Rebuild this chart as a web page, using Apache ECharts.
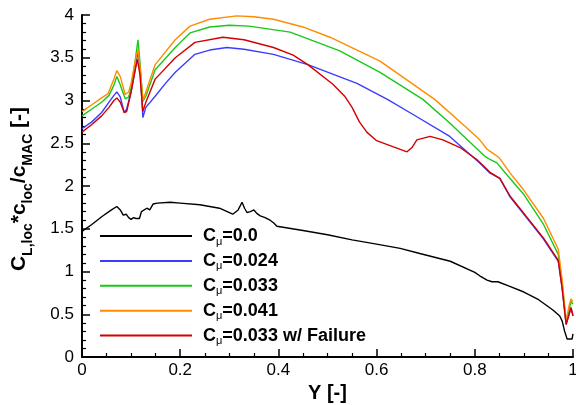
<!DOCTYPE html>
<html>
<head>
<meta charset="utf-8">
<script src="https://cdn.jsdelivr.net/npm/echarts@6/dist/echarts.min.js"></script>
<style>html,body{margin:0;padding:0;background:#fff}#c{width:576px;height:405px}</style>
</head>
<body>
<div id="c"></div>
<script>
var seriesNames = ['Cμ=0.0', 'Cμ=0.024', 'Cμ=0.033', 'Cμ=0.041', 'Cμ=0.033 w/ Failure'];
var xTicks = [0, 0.2, 0.4, 0.6, 0.8, 1];
var yTicks = [0, 0.5, 1, 1.5, 2, 2.5, 3, 3.5, 4];

var y0 = [0, 0.02, 0.04, 0.06, 0.071, 0.078, 0.084, 0.09, 0.095, 0.10, 0.105, 0.11, 0.117, 0.121, 0.124, 0.132, 0.138, 0.145, 0.153, 0.18, 0.2, 0.24, 0.28, 0.307, 0.318, 0.326, 0.331, 0.336, 0.343, 0.35, 0.356, 0.363, 0.373, 0.383, 0.39, 0.397, 0.45, 0.5, 0.55, 0.6, 0.648, 0.688, 0.75, 0.8, 0.81, 0.825, 0.835, 0.847, 0.87, 0.9, 0.93, 0.959, 0.973, 0.978, 0.983, 0.988, 0.998, 1.0];
var v0 = [1.47, 1.55, 1.64, 1.72, 1.76, 1.72, 1.66, 1.67, 1.63, 1.61, 1.63, 1.62, 1.62, 1.70, 1.72, 1.74, 1.72, 1.79, 1.80, 1.81, 1.80, 1.78, 1.74, 1.67, 1.72, 1.81, 1.74, 1.69, 1.70, 1.72, 1.68, 1.65, 1.63, 1.60, 1.57, 1.53, 1.48, 1.43, 1.37, 1.32, 1.27, 1.21, 1.12, 0.99, 0.95, 0.90, 0.88, 0.88, 0.83, 0.76, 0.67, 0.55, 0.48, 0.42, 0.30, 0.21, 0.21, 0.27];

var y1 = [0, 0.02, 0.04, 0.055, 0.065, 0.071, 0.078, 0.086, 0.091, 0.1, 0.108, 0.114, 0.118, 0.124, 0.13, 0.149, 0.17, 0.19, 0.23, 0.26, 0.295, 0.33, 0.39, 0.46, 0.56, 0.623, 0.682, 0.749, 0.784, 0.81, 0.831, 0.851, 0.872, 0.9, 0.94, 0.97, 0.978, 0.986, 0.992, 0.996, 1.0];
var v1 = [2.67, 2.75, 2.86, 2.98, 3.06, 3.10, 3.04, 2.86, 2.90, 3.10, 3.35, 3.58, 3.40, 2.80, 2.92, 3.05, 3.20, 3.33, 3.54, 3.59, 3.62, 3.60, 3.54, 3.42, 3.20, 3.01, 2.81, 2.58, 2.40, 2.27, 2.15, 2.09, 1.87, 1.67, 1.38, 1.12, 0.80, 0.38, 0.50, 0.57, 0.48];

var y2 = [0, 0.02, 0.04, 0.055, 0.065, 0.071, 0.078, 0.088, 0.095, 0.1, 0.108, 0.114, 0.118, 0.124, 0.13, 0.149, 0.19, 0.22, 0.26, 0.3, 0.34, 0.424, 0.525, 0.607, 0.695, 0.75, 0.8, 0.82, 0.831, 0.845, 0.87, 0.9, 0.94, 0.97, 0.978, 0.986, 0.992, 0.996, 1.0];
var v2 = [2.82, 2.90, 2.98, 3.06, 3.18, 3.28, 3.18, 3.02, 3.04, 3.15, 3.45, 3.71, 3.45, 2.99, 3.05, 3.36, 3.62, 3.79, 3.86, 3.88, 3.87, 3.80, 3.58, 3.33, 3.01, 2.73, 2.46, 2.35, 2.31, 2.27, 2.10, 1.90, 1.55, 1.20, 0.85, 0.40, 0.55, 0.65, 0.62];

var y3 = [0, 0.02, 0.04, 0.053, 0.065, 0.071, 0.078, 0.088, 0.095, 0.1, 0.108, 0.114, 0.118, 0.124, 0.13, 0.149, 0.19, 0.22, 0.26, 0.315, 0.35, 0.39, 0.45, 0.505, 0.607, 0.719, 0.78, 0.81, 0.825, 0.835, 0.85, 0.872, 0.9, 0.94, 0.97, 0.978, 0.986, 0.992, 0.996, 1.0];
var v3 = [2.87, 2.95, 3.03, 3.08, 3.25, 3.35, 3.28, 3.07, 3.10, 3.20, 3.45, 3.60, 3.40, 3.00, 3.10, 3.42, 3.71, 3.87, 3.95, 3.99, 3.98, 3.95, 3.86, 3.74, 3.46, 3.01, 2.70, 2.54, 2.43, 2.39, 2.33, 2.15, 1.95, 1.62, 1.26, 0.90, 0.42, 0.60, 0.68, 0.65];

var y4 = [0, 0.02, 0.04, 0.055, 0.065, 0.071, 0.078, 0.086, 0.091, 0.1, 0.108, 0.113, 0.118, 0.124, 0.13, 0.149, 0.19, 0.23, 0.287, 0.33, 0.39, 0.43, 0.46, 0.511, 0.535, 0.55, 0.565, 0.58, 0.6, 0.633, 0.662, 0.672, 0.682, 0.709, 0.735, 0.77, 0.804, 0.831, 0.851, 0.872, 0.9, 0.94, 0.97, 0.978, 0.986, 0.992, 0.996, 1.0];
var v4 = [2.63, 2.72, 2.82, 2.92, 3.00, 3.03, 2.98, 2.86, 2.87, 3.10, 3.35, 3.48, 3.30, 2.87, 2.98, 3.25, 3.50, 3.68, 3.74, 3.71, 3.62, 3.53, 3.42, 3.19, 3.05, 2.92, 2.75, 2.63, 2.53, 2.46, 2.40, 2.45, 2.54, 2.58, 2.54, 2.45, 2.31, 2.16, 2.09, 1.88, 1.68, 1.39, 1.13, 0.80, 0.38, 0.50, 0.58, 0.48];

var colors = ['#000000', '#3c3cff', '#19c819', '#ff8c00', '#d40000'];

function zip(a, b) { return a.map(function (x, i) { return [x, b[i]]; }); }
var xs = [y0, y1, y2, y3, y4];
var vs = [v0, v1, v2, v3, v4];

var FONT = '"Liberation Sans", Arial, sans-serif';

var chart = echarts.init(document.getElementById('c'), null, {renderer: 'canvas'});
chart.setOption({
  animation: false,
  backgroundColor: '#fff',
  color: colors,
  grid: {left: 82, right: 3, top: 15, bottom: 48, containLabel: false, outerBoundsMode: 'none'},
  xAxis: {
    type: 'value', min: 0, max: 1, interval: 0.2,
    name: 'Y [-]', nameLocation: 'middle', nameGap: 23,
    nameTextStyle: {fontFamily: FONT, fontSize: 20, fontWeight: 'bold', color: '#000'},
    axisLine: {show: true, onZero: false, lineStyle: {color: '#000', width: 2}},
    axisTick: {show: true, inside: true, length: 8, lineStyle: {color: '#000', width: 1.5}},
    minorTick: {show: true, splitNumber: 4, length: 4, lineStyle: {color: '#000', width: 1.2}},
    axisLabel: {fontFamily: FONT, fontSize: 17, color: '#000', margin: 5, hideOverlap: false,
      formatter: function (v) { return xTicks.indexOf(Math.round(v * 10) / 10) >= 0 ? String(Math.round(v * 10) / 10) : ''; }},
    splitLine: {show: false}
  },
  yAxis: {
    type: 'value', min: 0, max: 4, interval: 0.5,
    axisLine: {show: true, onZero: false, lineStyle: {color: '#000', width: 2}},
    axisTick: {show: true, inside: true, length: 8, lineStyle: {color: '#000', width: 1.5}},
    minorTick: {show: true, splitNumber: 5, length: 4, lineStyle: {color: '#000', width: 1.2}},
    axisLabel: {fontFamily: FONT, fontSize: 17, color: '#000', margin: 8, hideOverlap: false,
      formatter: function (v) { return yTicks.indexOf(v) >= 0 ? String(v) : ''; }},
    splitLine: {show: false}
  },
  legend: {
    orient: 'vertical', left: 95, top: 222,
    itemWidth: 92, itemHeight: 2, itemGap: 4.9,
    icon: 'rect',
    data: seriesNames,
    formatter: function (name) {
      return '{c|C}{m|μ}{c|' + name.slice(2) + '}';
    },
    textStyle: {
      fontFamily: FONT, color: '#000', padding: [0, 0, 0, 6],
      rich: {
        c: {fontFamily: FONT, fontSize: 18, fontWeight: 'bold', color: '#000', lineHeight: 22},
        m: {fontFamily: FONT, fontSize: 11, color: '#000', verticalAlign: 'bottom', lineHeight: 12}
      }
    }
  },
  graphic: [{
    type: 'text', x: 19, y: 189, rotation: Math.PI / 2,
    style: {
      text: '{b|C}{s|L,loc}{b|*c}{s|loc}{b|/c}{s|MAC}{b| [-]}',
      align: 'center', verticalAlign: 'middle',
      rich: {
        b: {fontFamily: FONT, fontSize: 21, fontWeight: 'bold', fill: '#000', lineHeight: 33},
        s: {fontFamily: FONT, fontSize: 14, fontWeight: 'bold', fill: '#000', verticalAlign: 'bottom', lineHeight: 14}
      }
    }
  }],
  series: seriesNames.map(function (n, i) {
    return {
      name: n, type: 'line', data: zip(xs[i], vs[i]),
      showSymbol: false, symbol: 'none',
      lineStyle: {color: colors[i], width: 1.4},
      itemStyle: {color: colors[i]},
      z: 2 + i
    };
  })
});
</script>
</body>
</html>
